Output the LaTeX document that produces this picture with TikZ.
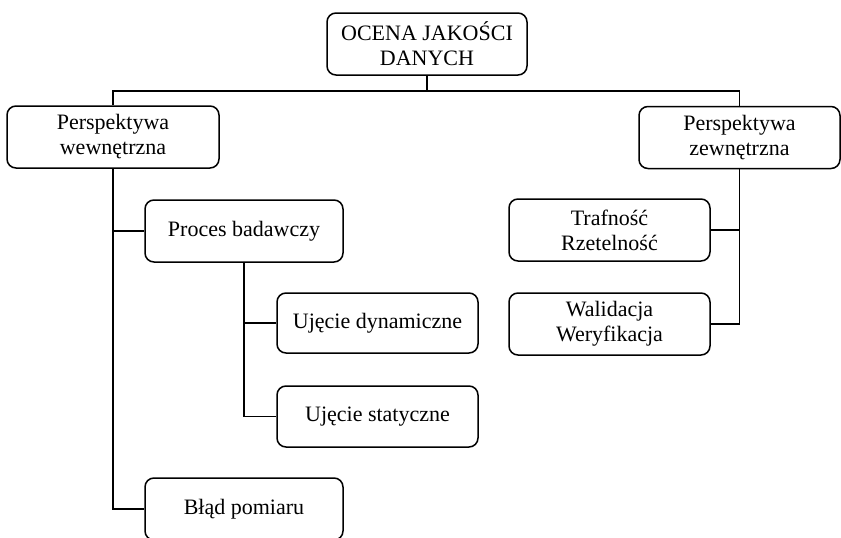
\documentclass[tikz,border=0pt]{standalone}
\usepackage{fontspec}
\setmainfont{Liberation Serif}
\begin{document}
\begin{tikzpicture}[x=1pt,y=-1pt,
  box/.style={draw, rounded corners=9pt, line width=1.5pt, align=center, inner sep=0pt,
    font=\fontsize{22}{25}\selectfont, minimum height=62pt},
  conn/.style={line width=1.5pt}]
\useasboundingbox (0,0) rectangle (841,538);
\clip (0,0) rectangle (841,538);
\node[box, minimum width=200pt] (top) at (427,44) {OCENA JAKOŚCI\\DANYCH};
\node[box, minimum width=212pt] (lw) at (113,137) {Perspektywa\\wewnętrzna};
\node[box, minimum width=201pt] (rw) at (739.5,137.5) {Perspektywa\\zewnętrzna};
\node[box, minimum width=198pt] (proc) at (244,231) {Proces badawczy};
\node[box, minimum width=201pt] (traf) at (609.5,230) {Trafność\\Rzetelność};
\node[box, minimum width=201pt] (wal) at (609.5,324) {Walidacja\\Weryfikacja};
\node[box, minimum width=201pt, minimum height=60pt] (udyn) at (377.5,323) {Ujęcie dynamiczne};
\node[box, minimum width=201pt, minimum height=61pt] (ustat) at (377.5,416.5) {Ujęcie statyczne};
\node[box, minimum width=198pt] (blad) at (244,509) {Błąd pomiaru};
\coordinate (hub) at (427,91);
\draw[conn] (top.south) -- (hub);
\draw[conn] (hub) -| (lw.north);
\draw[conn] (hub) -| (rw.north);
\draw[conn] (lw.south) |- (blad.west);
\draw[conn] (lw.south |- proc.west) -- (proc.west);
\draw[conn] (proc.south) |- (ustat.west);
\draw[conn] (proc.south |- udyn.west) -- (udyn.west);
\draw[conn] (rw.south) |- (wal.east);
\draw[conn] (rw.south |- traf.east) -- (traf.east);
\end{tikzpicture}
\end{document}
